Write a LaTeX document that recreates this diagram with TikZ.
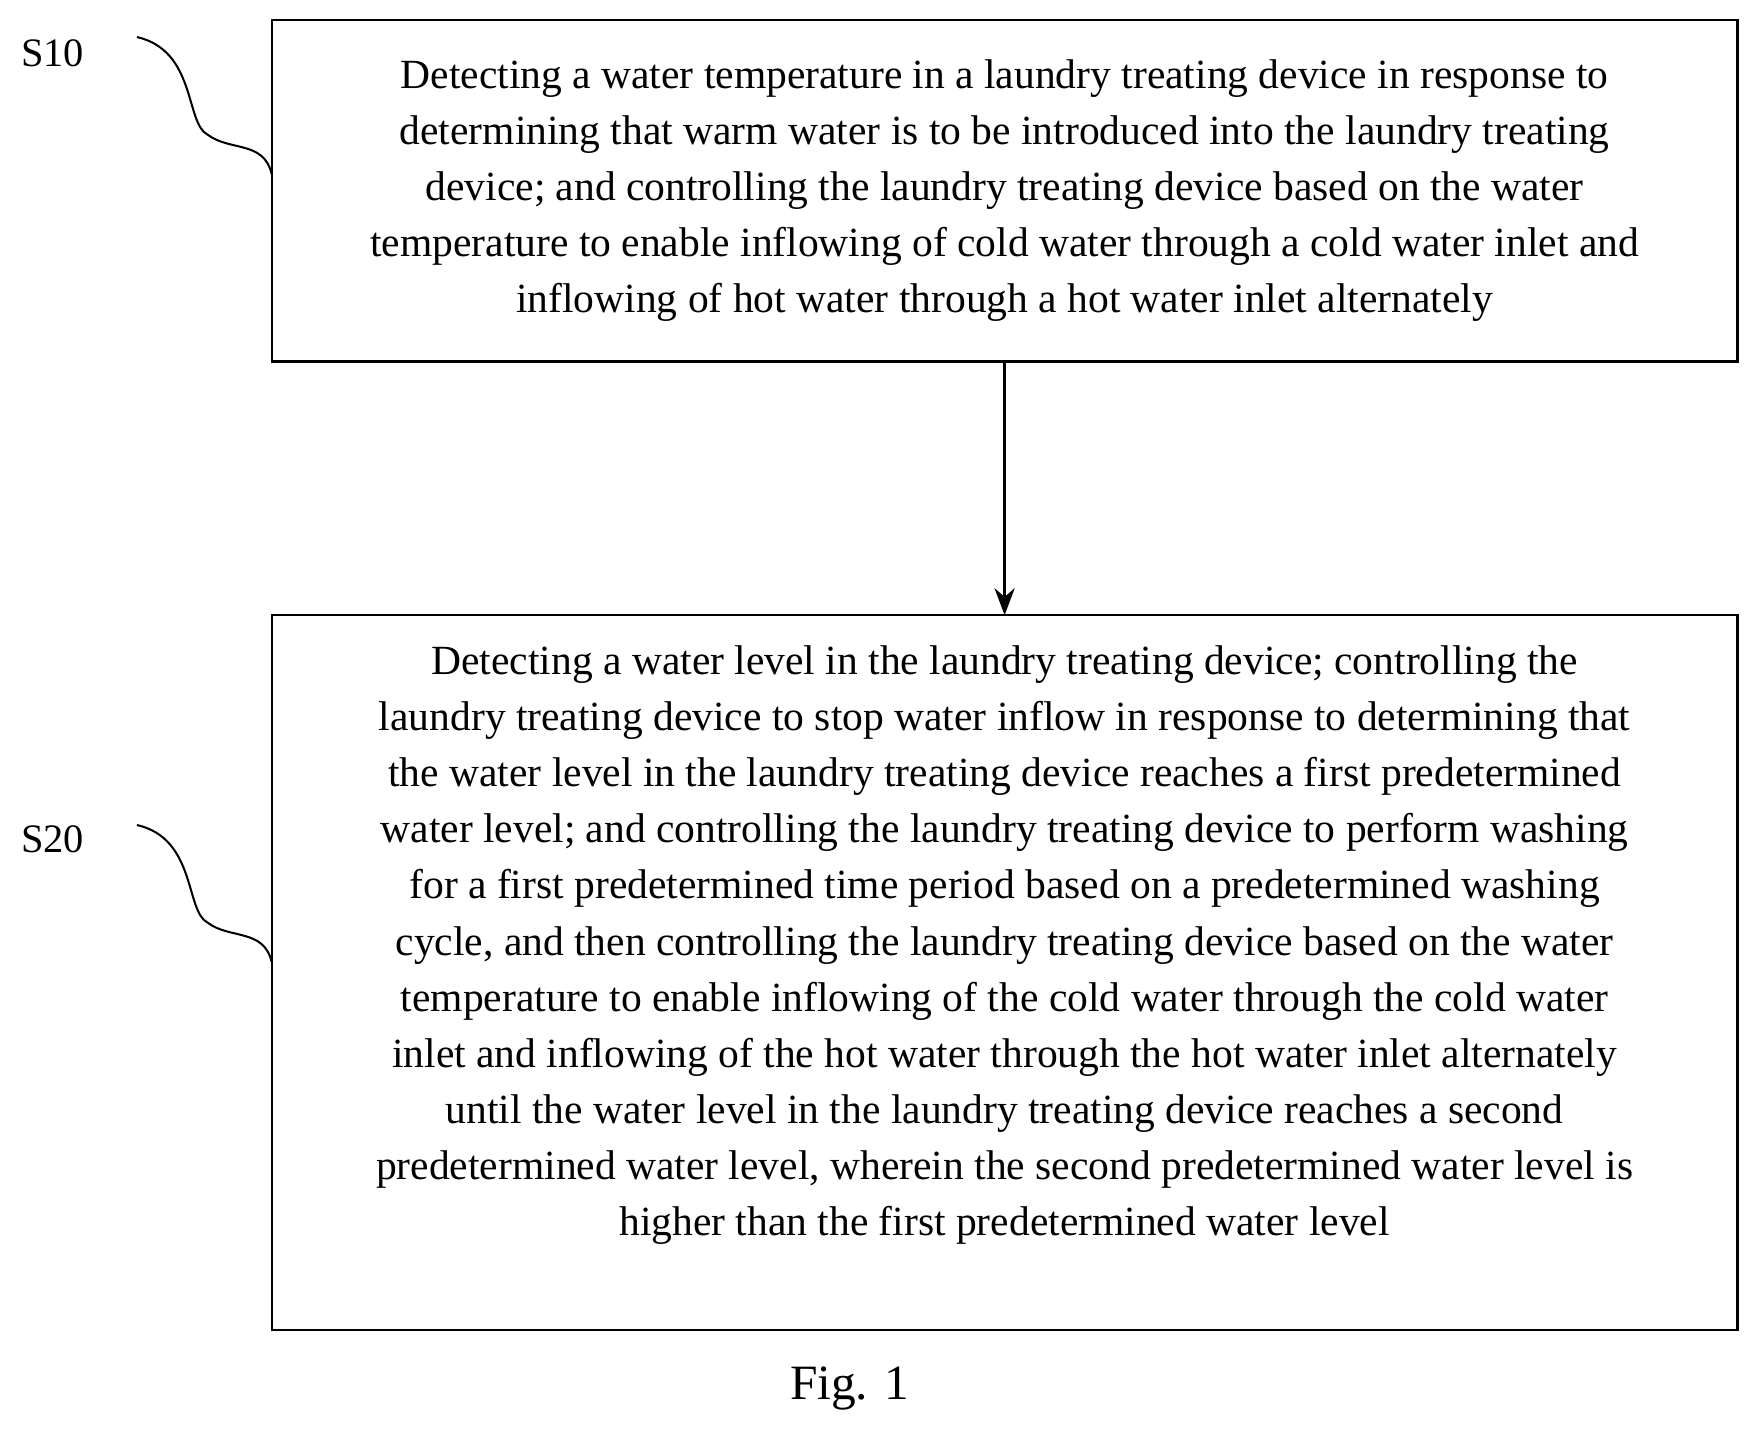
\documentclass[tikz,border=0pt]{standalone}
\usepackage{fontspec}
\setmainfont{Liberation Serif}
\usetikzlibrary{positioning,arrows.meta}
\tikzset{
  stepbox/.style={line width=1pt, align=center, font=\fontsize{18.5}{25}\selectfont},
  tag/.style={font=\fontsize{18}{22}\selectfont},
  brace/.style={line width=0.9pt},
}
\begin{document}
\begin{tikzpicture}[x=0.5pt,y=-0.5pt]
  \useasboundingbox (0,0) rectangle (1568,1281);
  % boxes
  \draw[line width=1pt] (242,18) rectangle (1548,322);
  \draw[line width=1pt] (242,548) rectangle (1548,1185);
  \node[stepbox] (s10) at (895,170) {Detecting a water temperature in a laundry treating device in response to\\
determining that warm water is to be introduced into the laundry treating\\
device; and controlling the laundry treating device based on the water\\
temperature to enable inflowing of cold water through a cold water inlet and\\
inflowing of hot water through a hot water inlet alternately};
  \node[stepbox] (s20) at (895,842) {Detecting a water level in the laundry treating device; controlling the\\
laundry treating device to stop water inflow in response to determining that\\
the water level in the laundry treating device reaches a first predetermined\\
water level; and controlling the laundry treating device to perform washing\\
for a first predetermined time period based on a predetermined washing\\
cycle, and then controlling the laundry treating device based on the water\\
temperature to enable inflowing of the cold water through the cold water\\
inlet and inflowing of the hot water through the hot water inlet alternately\\
until the water level in the laundry treating device reaches a second\\
predetermined water level, wherein the second predetermined water level is\\
higher than the first predetermined water level};
  \coordinate (top1) at (895,322);
  \coordinate (top2) at (895,548);
  \draw[line width=1pt, -{Stealth[length=12pt,width=9pt]}] (top1) -- (top2);
  % step tags
  \node[tag] (t10) at (47,47) {S10};
  \node[tag] (t20) at (47,748) {S20};
  \draw[brace] (122,33) .. controls (175,45) and (165,110) .. (185,120) .. controls (205,135) and (235,125) .. (242,155);
  \draw[brace] (122,735) .. controls (175,747) and (165,812) .. (185,822) .. controls (205,837) and (235,827) .. (242,857);
  \node[font=\fontsize{22}{26}\selectfont] (fig) at (757,1237) {Fig. 1};
\end{tikzpicture}
\end{document}
